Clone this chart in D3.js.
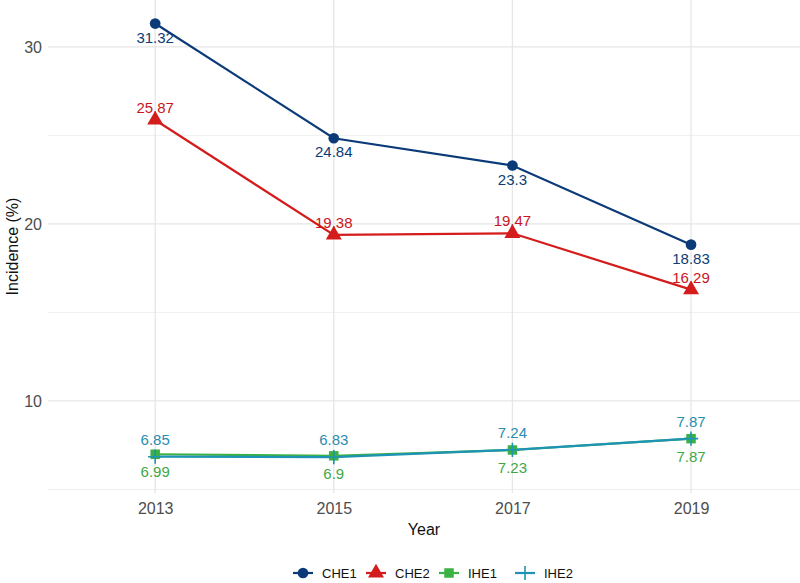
<!DOCTYPE html>
<html>
<head>
<meta charset="utf-8">
<script src="https://cdn.jsdelivr.net/npm/d3@7"></script>
<style>
  body { margin: 0; background: #fff; }
  text { font-family: "Liberation Sans", Arial, sans-serif; }
</style>
</head>
<body>
<div id="chart"></div>
<script>
var years = [2013, 2015, 2017, 2019];
var seriesNames = ["CHE1", "CHE2", "IHE1", "IHE2"];
var che1 = [31.32, 24.84, 23.3, 18.83];
var che2 = [25.87, 19.38, 19.47, 16.29];
var ihe1 = [6.99, 6.9, 7.23, 7.87];
var ihe2 = [6.85, 6.83, 7.24, 7.87];
var yTicks = [10, 20, 30];
var yMinor = [5, 15, 25];

var width = 800, height = 583;
var panel = { left: 48, right: 800, top: 0, bottom: 493 };

// colours, marker shapes and label offsets per series
var styles = {
    CHE1: { color: "#0b3a78", label: "#0d3d74", shape: d3.symbolCircle, dy: 19 },
    CHE2: { color: "#d41c1c", label: "#c8161c", shape: d3.symbolTriangle, dy: -7 },
    IHE1: { color: "#3bb143", label: "#3fa845", shape: d3.symbolSquare, dy: 23 },
    IHE2: { color: "#1e93b5", label: "#2a8db0", shape: null, dy: -12 }
};
var values = { CHE1: che1, CHE2: che2, IHE1: ihe1, IHE2: ihe2 };

var svg = d3.select("#chart").append("svg")
    .attr("width", width)
    .attr("height", height);

var x = d3.scaleLinear().domain([2011.8, 2020.22]).range([panel.left, panel.right]);
var y = d3.scaleLinear().domain([4.8, 32.65]).range([panel.bottom, panel.top]);

// grid
var grid = svg.append("g");
grid.selectAll(".minor").data(yMinor).enter().append("line")
    .attr("x1", panel.left).attr("x2", panel.right)
    .attr("y1", function(d) { return y(d); }).attr("y2", function(d) { return y(d); })
    .attr("stroke", "#ebebeb").attr("stroke-width", 0.8);
grid.selectAll(".major").data(yTicks).enter().append("line")
    .attr("x1", panel.left).attr("x2", panel.right)
    .attr("y1", function(d) { return y(d); }).attr("y2", function(d) { return y(d); })
    .attr("stroke", "#e6e6e6").attr("stroke-width", 1.3);
grid.selectAll(".vmajor").data(years).enter().append("line")
    .attr("y1", panel.top).attr("y2", panel.bottom)
    .attr("x1", function(d) { return x(d); }).attr("x2", function(d) { return x(d); })
    .attr("stroke", "#e6e6e6").attr("stroke-width", 1.3);

// axes (labels only, no domain line / ticks)
var yAxis = svg.append("g")
    .attr("transform", "translate(" + (panel.left - 6) + ",0)")
    .call(d3.axisLeft(y).tickValues(yTicks).tickSize(0).tickPadding(0));
var xAxis = svg.append("g")
    .attr("transform", "translate(0," + panel.bottom + ")")
    .call(d3.axisBottom(x).tickValues(years).tickFormat(d3.format("d")).tickSize(0).tickPadding(10));
[yAxis, xAxis].forEach(function(a) {
    a.select(".domain").remove();
    a.selectAll("text").attr("font-size", 16).attr("fill", "#4d4d4d")
        .attr("font-family", "Liberation Sans, Arial, sans-serif");
});

svg.append("text")
    .attr("x", (panel.left + panel.right) / 2)
    .attr("y", 535)
    .attr("text-anchor", "middle")
    .attr("font-size", 16)
    .attr("fill", "#111")
    .text("Year");

svg.append("text")
    .attr("transform", "translate(18," + ((panel.top + panel.bottom) / 2) + ") rotate(-90)")
    .attr("text-anchor", "middle")
    .attr("font-size", 16)
    .attr("fill", "#111")
    .text("Incidence (%)");

var line = d3.line()
    .x(function(d, i) { return x(years[i]); })
    .y(function(d) { return y(d); });

function drawMarker(g, name, cx, cy, size) {
    var s = styles[name];
    if (s.shape) {
        g.append("path")
            .attr("d", d3.symbol().type(s.shape).size(size)())
            .attr("transform", "translate(" + cx + "," + cy + ")")
            .attr("fill", s.color);
    } else {
        var r = Math.sqrt(size) * 0.75;
        g.append("path")
            .attr("d", "M" + (cx - r) + "," + cy + "H" + (cx + r) + "M" + cx + "," + (cy - r) + "V" + (cy + r))
            .attr("stroke", s.color).attr("stroke-width", 1.6).attr("fill", "none");
    }
}

// lines
seriesNames.forEach(function(name) {
    svg.append("path")
        .datum(values[name])
        .attr("d", line)
        .attr("fill", "none")
        .attr("stroke", styles[name].color)
        .attr("stroke-width", 2.2);
});

// points
var pts = svg.append("g");
seriesNames.forEach(function(name) {
    values[name].forEach(function(v, i) {
        drawMarker(pts, name, x(years[i]), y(v), name === "CHE2" ? 110 : 90);
    });
});

// labels
var labels = svg.append("g");
seriesNames.forEach(function(name) {
    labels.selectAll(null).data(values[name]).enter().append("text")
        .attr("x", function(d, i) { return x(years[i]); })
        .attr("y", function(d) { return y(d) + styles[name].dy; })
        .attr("text-anchor", "middle")
        .attr("font-size", 15)
        .attr("fill", styles[name].label)
        .text(function(d) { return d; });
});

// legend
var legendX = [293, 366, 439, 515];
var legend = svg.append("g");
seriesNames.forEach(function(name, i) {
    var lx = legendX[i], ly = 573;
    legend.append("line")
        .attr("x1", lx).attr("x2", lx + 20)
        .attr("y1", ly).attr("y2", ly)
        .attr("stroke", styles[name].color).attr("stroke-width", 2.2);
    drawMarker(legend, name, lx + 10, ly, name === "CHE2" ? 110 : 90);
    legend.append("text")
        .attr("x", lx + 29)
        .attr("y", ly + 4.5)
        .attr("font-size", 13)
        .attr("fill", "#111")
        .text(name);
});
</script>
</body>
</html>
